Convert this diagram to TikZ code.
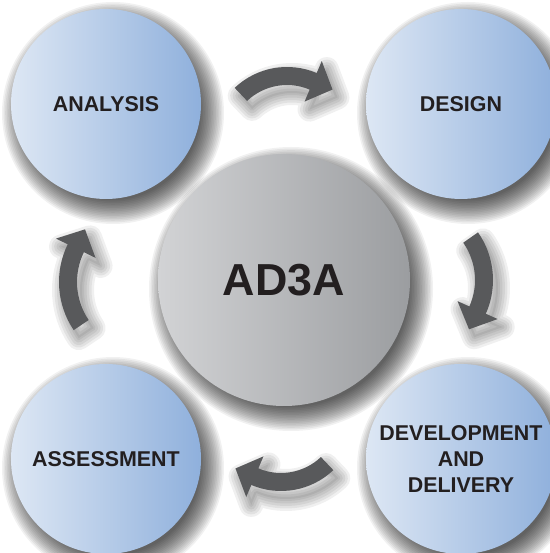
\documentclass[tikz,border=0pt]{standalone}
\usepackage{fontspec}
\setmainfont{Liberation Sans}
\usetikzlibrary{calc}
\definecolor{arrowgray}{HTML}{58595B}
\definecolor{blueL}{HTML}{DDE7F4}
\definecolor{blueR}{HTML}{8FB0DC}
\definecolor{grayL}{HTML}{D2D3D5}
\definecolor{grayR}{HTML}{9B9DA0}
\definecolor{txt}{HTML}{231F20}
\tikzset{
  phase/.style={circle, minimum size=190bp, inner sep=0pt, left color=blueL, right color=blueR,
    font=\fontsize{21.5}{26.5}\selectfont\bfseries, text=txt, align=center},
  hubstyle/.style={circle, minimum size=252bp, inner sep=0pt, left color=grayL, right color=grayR,
    font=\fontsize{45}{50}\selectfont\bfseries, text=txt},
  softshade/.style={black, opacity=0.055},
  cyc/.style={fill=arrowgray}
}
% soft shadow of a disc: centre x, y, radius
\newcommand\discshadow[3]{%
  \foreach \k in {0,...,15} {\fill[softshade] ({#1+7},{#2-9}) circle ({#3+16-1.6*\k});}}
\newcommand\cycpath[3]{(#2:{#1+9}) arc[start angle=#2, end angle=#3, radius={#1+9}]
      -- (#3:{#1+22}) -- ($(#3:#1)+(#3-90:21)$) -- (#3:{#1-22})
      -- (#3:{#1-9}) arc[start angle=#3, end angle=#2, radius={#1-9}] -- cycle}
% #1 reference node, #2,#3 offset of arc centre, #4 radius, #5 tail angle, #6 head angle (clockwise)
\newcommand\cycarrow[6]{%
  \begin{scope}[shift={($(#1)+(#2,#3)$)}]
    \begin{scope}[shift={(5,-8)}]
      \foreach \w in {24,19,14,9,4} {\draw[softshade, opacity=0.06, line width=\w bp, line join=round] \cycpath{#4}{#5}{#6};}
      \fill[softshade, opacity=0.06] \cycpath{#4}{#5}{#6};
    \end{scope}
    \fill[cyc] \cycpath{#4}{#5}{#6};
  \end{scope}}
\begin{document}
\begin{tikzpicture}[x=1bp,y=1bp]
  \useasboundingbox (0,0) rectangle (550,553);
  \clip (0,0) rectangle (550,553);
  \fill[white] (0,0) rectangle (550,553);
  \discshadow{106}{449}{95}
  \discshadow{461}{449}{95}
  \discshadow{106}{94}{95}
  \discshadow{461}{94}{95}
  \discshadow{284}{273}{126}
  \node[phase] (analysis) at (106,449) {ANALYSIS};
  \node[phase] (design) at (461,449) {DESIGN};
  \node[phase] (assess) at (106,94) {ASSESSMENT};
  \node[phase] (dev) at (461,94) {DEVELOPMENT\\AND\\DELIVERY};
  \node[hubstyle] (hub) at (284,273) {AD3A};
  \cycarrow{hub}{3}{137}{67}{133.5}{67}
  \cycarrow{hub}{126}{0}{74}{35}{-24}
  \cycarrow{hub}{-3}{-135}{67}{-46.5}{-113}
  \cycarrow{hub}{-139}{-2}{77}{214}{154}
\end{tikzpicture}
\end{document}
